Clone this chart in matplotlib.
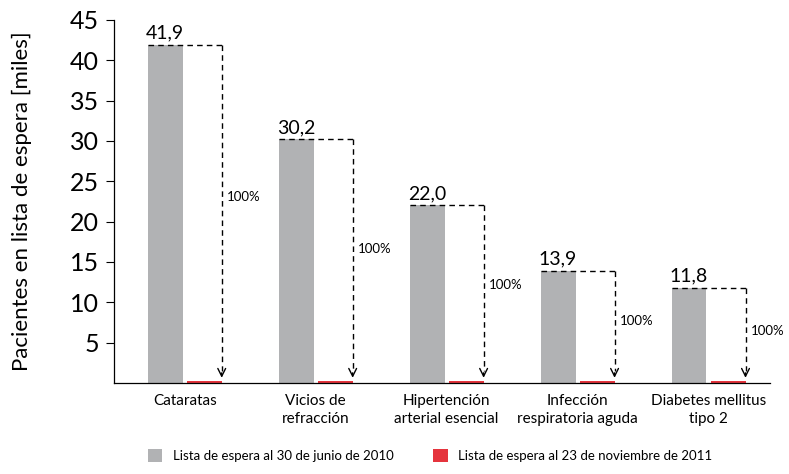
import numpy as np
import matplotlib.pyplot as plt

plt.rcParams['font.family'] = ['Lato', 'DejaVu Sans']

categorias = ["Cataratas", "Vicios de\nrefracción", "Hipertención\narterial esencial",
              "Infección\nrespiratoria aguda", "Diabetes mellitus\ntipo 2"]
espera_2010 = [41.9, 30.2, 22.0, 13.9, 11.8]
espera_2011 = [0.3, 0.3, 0.3, 0.3, 0.3]
etiquetas_2010 = ["41,9", "30,2", "22,0", "13,9", "11,8"]
porcentajes = ["100%", "100%", "100%", "100%", "100%"]
y_ticks = [5, 10, 15, 20, 25, 30, 35, 40, 45]

gris = '#b1b2b4'
rojo = '#e5343d'

fig = plt.figure(figsize=(7.89, 4.74), dpi=100)
ax = fig.add_axes([0.1445, 0.192, 0.8315, 0.766])

x = np.arange(len(categorias))
w = 0.267
off = 0.149
ax.bar(x - off, espera_2010, width=w, color=gris, label="Lista de espera al 30 de junio de 2010")
ax.bar(x + off, espera_2011, width=w, color=rojo, label="Lista de espera al 23 de noviembre de 2011")

for i in range(len(x)):
    left = x[i] - off - w / 2
    right = x[i] + off + w / 2
    top = espera_2010[i]
    ax.plot([left, right], [top, top], color='black', lw=1, ls=(0, (4, 3)))
    ax.plot([right, right], [top, espera_2011[i] + 1.2], color='black', lw=1, ls=(0, (4, 3)))
    ax.annotate('', xy=(right, espera_2011[i]), xytext=(right, espera_2011[i] + 1.3),
                arrowprops=dict(arrowstyle='->', lw=1, color='black', mutation_scale=14))
    ax.text(x[i] - off, top + 0.4, etiquetas_2010[i], ha='center', va='bottom', fontsize=14)
    ax.text(right + 0.04, top * 0.55, porcentajes[i], ha='left', va='center', fontsize=9.5)

ax.set_xlim(-0.54, 4.47)
ax.set_ylim(0, 45)
ax.set_yticks(y_ticks)
ax.tick_params(axis='y', labelsize=18, length=6, width=0.8, pad=5)
ax.set_xticks(x)
ax.set_xticklabels(categorias, fontsize=11, linespacing=1.35)
ax.tick_params(axis='x', length=0, pad=8)
ax.set_ylabel("Pacientes en lista de espera [miles]", fontsize=16)
ax.yaxis.set_label_coords(-0.125, 0.5)
ax.spines['top'].set_visible(False)
ax.spines['right'].set_visible(False)
ax.spines['left'].set_linewidth(0.9)
ax.spines['bottom'].set_linewidth(0.9)

fig.legend(loc='lower center', bbox_to_anchor=(0.545, 0.0), ncol=2, frameon=False,
           fontsize=9.5, handlelength=1.1, handleheight=1.1, columnspacing=3)

fig.savefig('out.png', dpi=100)
